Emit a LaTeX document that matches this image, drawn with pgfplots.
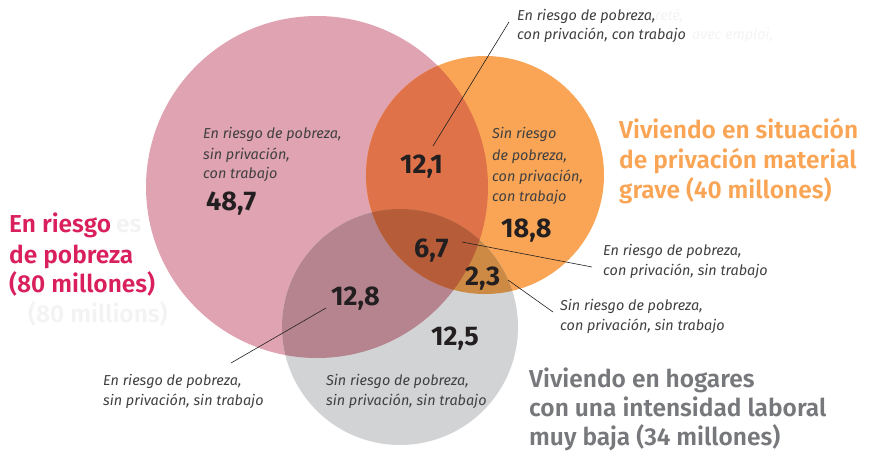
\documentclass[border=0pt]{standalone}
\usepackage{fontspec}
\setmainfont{Fira Sans}
\newfontfamily\semib{Fira Sans SemiBold}
\usepackage{pgfplots}
\pgfplotsset{compat=1.18}

\definecolor{cP}{HTML}{DFA3B2}
\definecolor{cO}{HTML}{F9A555}
\definecolor{cG}{HTML}{D2D3D5}
\definecolor{cPO}{HTML}{DF7248}
\definecolor{cPG}{HTML}{B5848F}
\definecolor{cOG}{HTML}{CD8A44}
\definecolor{cPOG}{HTML}{B65C39}
\definecolor{tPink}{HTML}{D91F5C}
\definecolor{tOrange}{HTML}{F9A555}
\definecolor{tGrey}{HTML}{77787B}
\definecolor{tNum}{HTML}{231F20}
\definecolor{tIt}{HTML}{404041}
\definecolor{ghost}{HTML}{F3F3F3}

\newcommand\itsm{\fontsize{14.4}{17}\selectfont\itshape}
\newcommand\ttl{\fontsize{24.5}{29}\selectfont\semib}
\newcommand\num{\fontsize{27}{30}\selectfont\bfseries}
\tikzset{every node/.append style={inner sep=0pt}}

\begin{document}
\begin{tikzpicture}
\begin{axis}[
  width=871pt, height=452pt, scale only axis,
  xmin=0, xmax=871, ymin=0, ymax=452, y dir=reverse,
  hide axis, clip=false,
]
% circles: pink (poverty), orange (deprivation), grey (low work intensity)
\fill[cP] (axis cs:317,187) circle[radius=171];
\fill[cO] (axis cs:485,175) circle[radius=119];
\fill[cG] (axis cs:400,327) circle[radius=118];
\begin{scope}
  \clip (axis cs:317,187) circle[radius=171];
  \fill[cPO] (axis cs:485,175) circle[radius=119];
  \fill[cPG] (axis cs:400,327) circle[radius=118];
\end{scope}
\begin{scope}
  \clip (axis cs:485,175) circle[radius=119];
  \fill[cOG] (axis cs:400,327) circle[radius=118];
  \clip (axis cs:317,187) circle[radius=171];
  \fill[cPOG] (axis cs:400,327) circle[radius=118];
\end{scope}

% leader lines
\addplot[tNum, line width=0.6pt] coordinates {(433,146) (509,22)};
\addplot[tNum, line width=0.6pt] coordinates {(462,242) (592,267)};
\addplot[tNum, line width=0.6pt] coordinates {(508,280) (553,312)};
\addplot[tNum, line width=0.6pt] coordinates {(326,308) (231,363)};

% ghost texts
\node[anchor=base west, font=\ttl, color=ghost] at (axis cs:28,322) {(80 millions)};
\node[anchor=base west, font=\ttl, color=ghost] at (axis cs:116,232) {es};
\node[anchor=base west, font=\itsm, color=ghost] at (axis cs:655,21) {reté,};
\node[anchor=base west, font=\itsm, color=ghost] at (axis cs:692,40) {avec emploi,};

% numbers
\node[anchor=base west, font=\num, color=tNum] at (axis cs:206,210) {48,7};
\node[anchor=base west, font=\num, color=tNum] at (axis cs:400,173) {12,1};
\node[anchor=base west, font=\num, color=tNum] at (axis cs:501,237) {18,8};
\node[anchor=base west, font=\num, color=tNum] at (axis cs:414,257) {6,7};
\node[anchor=base west, font=\num, color=tNum] at (axis cs:465,285) {2,3};
\node[anchor=base west, font=\num, color=tNum] at (axis cs:331,305) {12,8};
\node[anchor=base west, font=\num, color=tNum] at (axis cs:431,345) {12,5};

% italic labels
\node[anchor=base west, font=\itsm, color=tIt] at (axis cs:517,21) {En riesgo de pobreza,};
\node[anchor=base west, font=\itsm, color=tIt] at (axis cs:517,40) {con privación, con trabajo};

\node[anchor=base west, font=\itsm, color=tIt] at (axis cs:203,139) {En riesgo de pobreza,};
\node[anchor=base west, font=\itsm, color=tIt] at (axis cs:203,159) {sin privación,};
\node[anchor=base west, font=\itsm, color=tIt] at (axis cs:203,178) {con trabajo};

\node[anchor=base west, font=\itsm, color=tIt] at (axis cs:492,139) {Sin riesgo};
\node[anchor=base west, font=\itsm, color=tIt] at (axis cs:492,160) {de pobreza,};
\node[anchor=base west, font=\itsm, color=tIt] at (axis cs:492,181) {con privación,};
\node[anchor=base west, font=\itsm, color=tIt] at (axis cs:492,201) {con trabajo};

\node[anchor=base west, font=\itsm, color=tIt] at (axis cs:603,255) {En riesgo de pobreza,};
\node[anchor=base west, font=\itsm, color=tIt] at (axis cs:603,275) {con privación, sin trabajo};

\node[anchor=base west, font=\itsm, color=tIt] at (axis cs:560,310) {Sin riesgo de pobreza,};
\node[anchor=base west, font=\itsm, color=tIt] at (axis cs:560,330) {con privación, sin trabajo};

\node[anchor=base west, font=\itsm, color=tIt] at (axis cs:103,385) {En riesgo de pobreza,};
\node[anchor=base west, font=\itsm, color=tIt] at (axis cs:103,405) {sin privación, sin trabajo};

\node[anchor=base west, font=\itsm, color=tIt] at (axis cs:326,385) {Sin riesgo de pobreza,};
\node[anchor=base west, font=\itsm, color=tIt] at (axis cs:326,405) {sin privación, sin trabajo};

% set titles
\node[anchor=base west, font=\ttl, color=tPink] at (axis cs:9,232) {En riesgo};
\node[anchor=base west, font=\ttl, color=tPink] at (axis cs:9,263) {de pobreza};
\node[anchor=base west, font=\ttl, color=tPink] at (axis cs:9,292) {(80 millones)};

\node[anchor=base west, font=\ttl, color=tOrange] at (axis cs:619,139) {Viviendo en situación};
\node[anchor=base west, font=\ttl, color=tOrange] at (axis cs:619,168) {de privación material};
\node[anchor=base west, font=\ttl, color=tOrange] at (axis cs:619,198) {grave (40 millones)};

\node[anchor=base west, font=\ttl, color=tGrey] at (axis cs:529,387) {Viviendo en hogares};
\node[anchor=base west, font=\ttl, color=tGrey] at (axis cs:529,416) {con una intensidad laboral};
\node[anchor=base west, font=\ttl, color=tGrey] at (axis cs:529,445) {muy baja (34 millones)};
\end{axis}
\pgfresetboundingbox
\path (current axis.south west) rectangle (current axis.north east);
\end{tikzpicture}
\end{document}
